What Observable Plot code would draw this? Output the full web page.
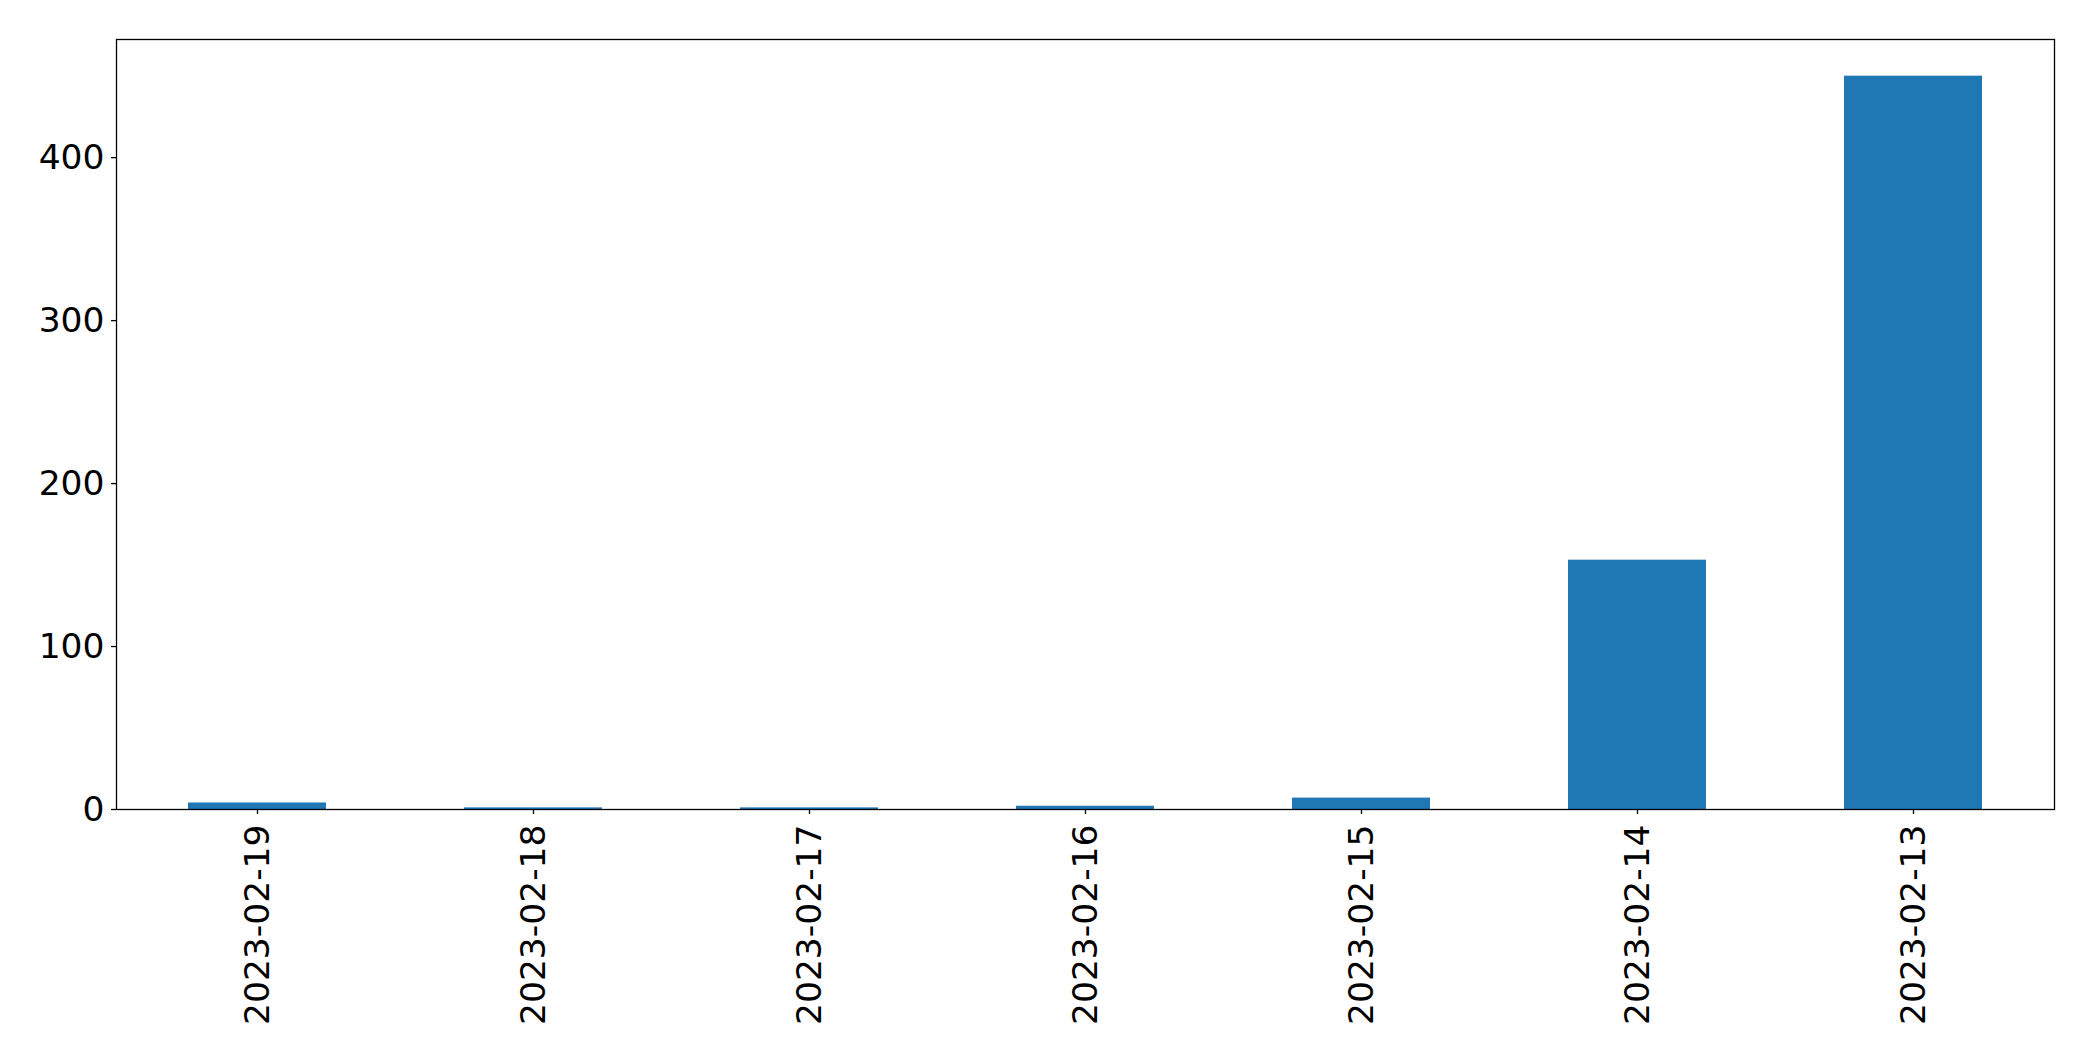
<!DOCTYPE html>
<html>
<head>
<meta charset="utf-8">
<script src="https://cdn.jsdelivr.net/npm/d3@7"></script>
<script src="https://cdn.jsdelivr.net/npm/@observablehq/plot@0.6"></script>
<style>
  html, body { margin: 0; padding: 0; background: #fff; }
  #chart svg { display: block; }
</style>
</head>
<body>
<div id="chart"></div>
<script>
const dates = ["2023-02-19", "2023-02-18", "2023-02-17", "2023-02-16", "2023-02-15", "2023-02-14", "2023-02-13"];
const counts = [4, 1, 1, 2, 7, 153, 450];
const yTicks = [0, 100, 200, 300, 400];

const data = dates.map((d, i) => ({date: d, count: counts[i]}));

const chart = Plot.plot({
  width: 2093,
  height: 1061,
  marginLeft: 116,
  marginRight: 39,
  marginTop: 39,
  marginBottom: 252,
  style: {fontFamily: "DejaVu Sans", color: "#000", background: "#fff"},
  x: {domain: dates, paddingInner: 0.5, paddingOuter: 0.25, align: 0.5},
  y: {domain: [0, 472.5]},
  marks: [
    Plot.barY(data, {x: "date", y: "count", fill: "#1f77b4"}),
    Plot.axisY({ticks: yTicks, tickSize: 5, tickPadding: 7, fontSize: 34.5, label: null, stroke: "#000", strokeWidth: 1.3}),
    Plot.axisX({tickRotate: -90, tickSize: 5, tickPadding: 10, fontSize: 34.5, label: null, stroke: "#000", strokeWidth: 1.3}),
    Plot.frame({stroke: "#000", strokeWidth: 1.3})
  ]
});
document.getElementById("chart").appendChild(chart);
</script>
</body>
</html>
